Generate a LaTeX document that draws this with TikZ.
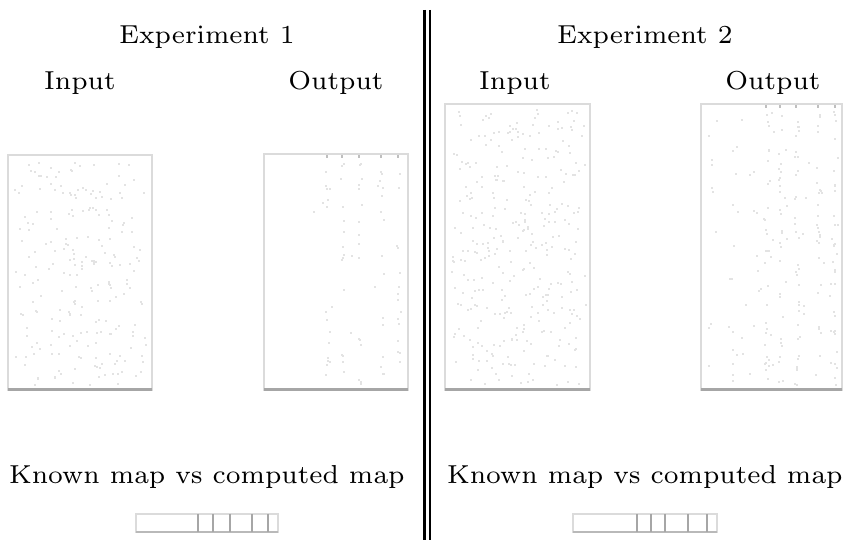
\documentclass[tikz,border=0pt]{standalone}
\font\lblfont=cmr7 at 13pt
\begin{document}
\begin{tikzpicture}[x=0.5pt,y=-0.5pt,
  lbl/.style={font=\lblfont, inner sep=0, anchor=base},
  panel/.style={draw=gray!28, line width=1.4pt, fill=white, anchor=north west, inner sep=0, outer sep=0},
  bottomedge/.style={draw=gray!70, line width=1.5pt},
  dot/.style={fill=gray!22},
  tick/.style={draw=gray!70, line width=0.8pt},
  divider/.style={draw=black}]
\useasboundingbox (0,0) rectangle (843,540);

% titles
\node[lbl] (t1) at (207,44) {Experiment 1};
\node[lbl] (t2) at (645,44) {Experiment 2};
\node[lbl] (in1) at (80,90) {Input};
\node[lbl] (out1) at (336,90) {Output};
\node[lbl] (in2) at (515,90) {Input};
\node[lbl] (out2) at (773,90) {Output};
\node[lbl] (k1) at (207,484) {Known map vs computed map};
\node[lbl] (k2) at (645,484) {Known map vs computed map};

% panels
\node[panel, minimum width=72pt, minimum height=117.5pt] (p1) at (8,155) {};
\node[panel, minimum width=72pt, minimum height=118pt] (p2) at (264,154) {};
\node[panel, minimum width=72.5pt, minimum height=143pt] (p3) at (445,104) {};
\node[panel, minimum width=70.5pt, minimum height=143pt] (p4) at (701,104) {};

% dots
\pgfmathsetseed{7}
\foreach \i in {1,...,150}{
  \fill[dot] ({14+132*rnd},{160+224*rnd}) rectangle ++(2,2);
}
\foreach \i in {1,...,80}{
  \fill[dot] ({50+80*rnd},{160+224*rnd}) rectangle ++(2,2);
}
\foreach \i in {1,...,330}{
  \fill[dot] ({451+134*rnd},{109+275*rnd}) rectangle ++(2,2);
}
\foreach \c in {327,342,359,381,398}{
  \foreach \i in {1,...,15}{
    \fill[dot] ({\c-2+4*rnd},{160+225*rnd}) rectangle ++(2,2);
  }
  \fill[gray!50] (\c-1,155) rectangle ++(2,3);
}
\foreach \i in {1,...,10}{
  \fill[dot] ({270+130*rnd},{160+225*rnd}) rectangle ++(2,2);
}
\foreach \c in {766,780,796,818,835}{
  \foreach \i in {1,...,24}{
    \fill[dot] ({\c-2+4*rnd},{110+275*rnd}) rectangle ++(2,2);
  }
  \fill[gray!50] (\c-1,105) rectangle ++(2,3);
}
\foreach \i in {1,...,90}{
  \fill[dot] ({707+128*rnd},{110+275*rnd}) rectangle ++(2,2);
}

% bottom edges
\draw[bottomedge] (p1.south west) -- (p1.south east);
\draw[bottomedge] (p2.south west) -- (p2.south east);
\draw[bottomedge] (p3.south west) -- (p3.south east);
\draw[bottomedge] (p4.south west) -- (p4.south east);

% comparison bars
\node[panel, minimum width=71pt, minimum height=9pt] (b1) at (136,514) {};
\node[panel, minimum width=72pt, minimum height=9pt] (b2) at (573,514) {};
\draw[draw=gray!55, line width=1.4pt] (b1.south west) -- (b1.south east);
\draw[draw=gray!55, line width=1.4pt] (b2.south west) -- (b2.south east);
\foreach \x in {198,213,230,252,268}{
  \draw[tick] (\x,514) -- (\x,532);
}
\foreach \x in {637,651,665,688,707}{
  \draw[tick] (\x,514) -- (\x,532);
}

% divider
\coordinate (d1a) at (424.5,10);
\coordinate (d1b) at (424.5,540);
\coordinate (d2a) at (430,10);
\coordinate (d2b) at (430,540);
\draw[divider, line width=1.5pt] (d1a) -- (d1b);
\draw[divider, line width=1pt] (d2a) -- (d2b);
\end{tikzpicture}
\end{document}
